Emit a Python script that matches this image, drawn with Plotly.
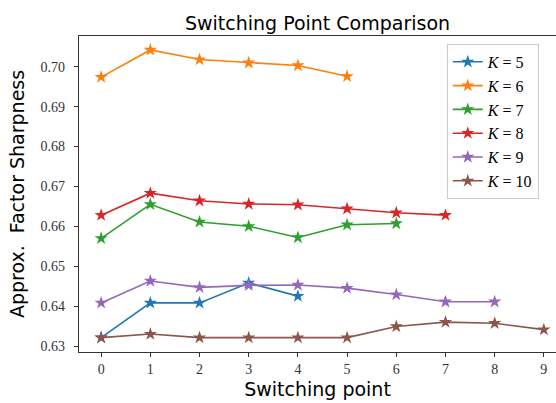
import plotly.graph_objects as go

# Approximate factor sharpness for each K as a function of the switching point
k_values = [5, 6, 7, 8, 9, 10]
sharpness_k5 = [0.6321, 0.6408, 0.6408, 0.6458, 0.6425]
sharpness_k6 = [0.6974, 0.7042, 0.7018, 0.7010, 0.7003, 0.6976]
sharpness_k7 = [0.6570, 0.6655, 0.6611, 0.6600, 0.6572, 0.6604, 0.6607]
sharpness_k8 = [0.6628, 0.6683, 0.6664, 0.6656, 0.6654, 0.6644, 0.6634, 0.6628]
sharpness_k9 = [0.6408, 0.6463, 0.6447, 0.6452, 0.6453, 0.6445, 0.6429, 0.6411, 0.6411]
sharpness_k10 = [0.6321, 0.6330, 0.6321, 0.6321, 0.6321, 0.6321, 0.6349, 0.6360, 0.6357, 0.6341]

series = [sharpness_k5, sharpness_k6, sharpness_k7, sharpness_k8, sharpness_k9, sharpness_k10]
colors = ["#1f77b4", "#ff7f0e", "#2ca02c", "#d62728", "#9467bd", "#8c564b"]

x_ticks = list(range(10))
y_ticks = [0.63, 0.64, 0.65, 0.66, 0.67, 0.68, 0.69, 0.70]

serif = "Liberation Serif, DejaVu Serif, serif"
sans = "DejaVu Sans, sans-serif"

fig = go.Figure()
for k, vals, c in zip(k_values, series, colors):
    fig.add_trace(go.Scatter(
        x=list(range(len(vals))), y=vals,
        mode="lines+markers",
        name=f"<i>K</i> = {k}",
        line=dict(color=c, width=1.6),
        marker=dict(symbol="star", size=10, color=c),
    ))

fig.update_layout(
    width=556, height=403,
    margin=dict(l=79, r=0, t=36, b=51),
    paper_bgcolor="white", plot_bgcolor="white",
    title=dict(text="Switching Point Comparison", x=0.5, xref="paper",
               y=1, yref="paper", yanchor="bottom", pad=dict(b=6),
               font=dict(family=sans, size=19, color="black")),
    legend=dict(x=0.771, y=0.975, xanchor="left", yanchor="top",
                bgcolor="white", bordercolor="#cccccc", borderwidth=1,
                font=dict(family=serif, size=16, color="black"),
                itemwidth=30, tracegroupgap=0),
    showlegend=True,
)

fig.update_xaxes(
    range=[-0.45, 9.247], tickvals=x_ticks, ticktext=[str(t) for t in x_ticks],
    showgrid=False, zeroline=False,
    showline=True, linecolor="#333333", linewidth=1.2, mirror=True,
    ticks="outside", ticklen=4, tickcolor="#333333",
    tickfont=dict(family=serif, size=14, color="#333333"),
    title=dict(text="Switching point", font=dict(family=sans, size=19, color="black"), standoff=6),
)
fig.update_yaxes(
    range=[0.6285, 0.7077], tickvals=y_ticks, ticktext=[f"{t:.2f}" for t in y_ticks],
    showgrid=False, zeroline=False,
    showline=True, linecolor="#333333", linewidth=1.2,
    ticks="outside", ticklen=4, tickcolor="#333333",
    ticklabelstandoff=6,
    tickfont=dict(family=serif, size=14, color="#333333"),
    title=dict(text="Approx.  Factor Sharpness", font=dict(family=sans, size=19, color="black"), standoff=10),
)

fig.write_html("out.html")
